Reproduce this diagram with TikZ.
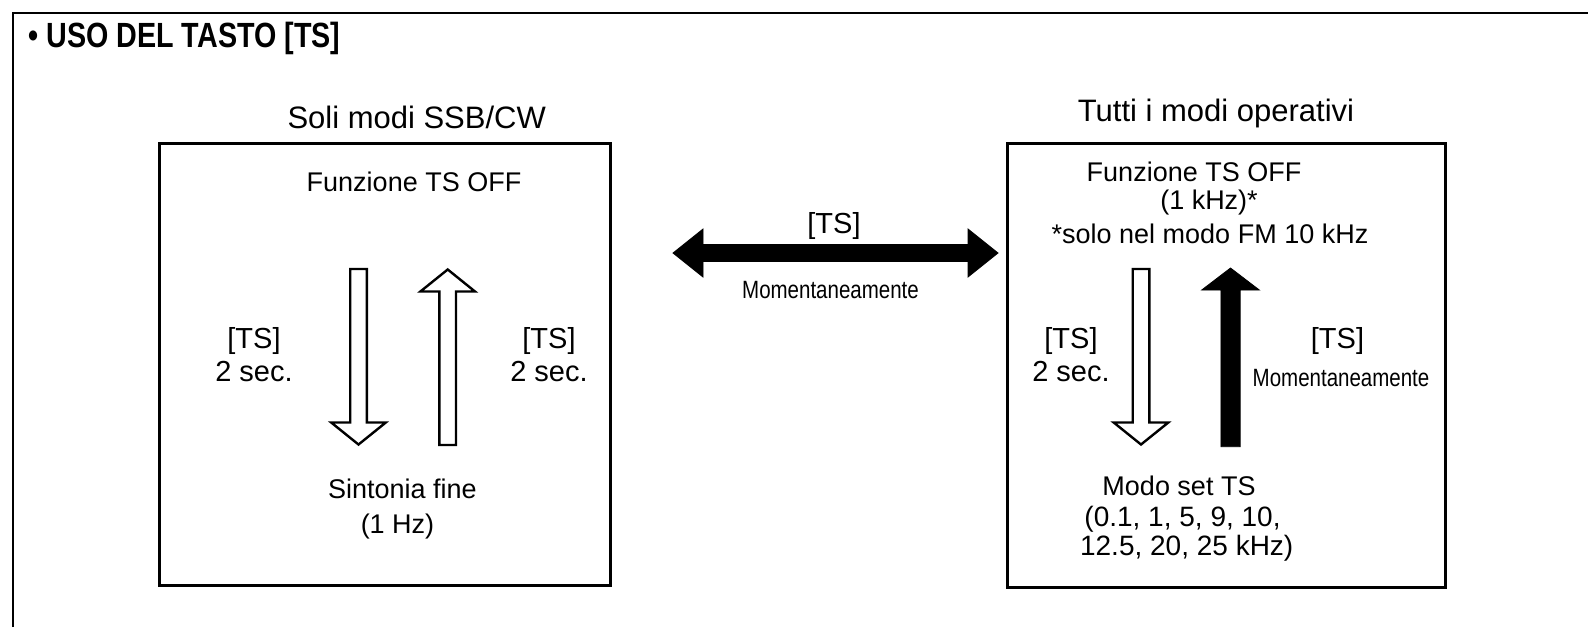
\documentclass[tikz,border=0pt]{standalone}
\usepackage{fontspec}
\setmainfont{Liberation Sans}
\newfontfamily\narrowfont{Liberation Sans}[FakeStretch=0.82]
\usetikzlibrary{calc,positioning}

\begin{document}
\begin{tikzpicture}[
  x=0.5pt, y=-0.5pt,
  frame/.style={line width=1.1pt},
  panel/.style={draw, line width=1.5pt, inner sep=0pt},
  heading/.style={anchor=base west, inner sep=0pt, font=\narrowfont\bfseries\fontsize{17.5}{20}\selectfont},
  caption/.style={anchor=base, inner sep=0pt, font=\fontsize{15.5}{18}\selectfont},
  txt/.style={anchor=base, inner sep=0pt, font=\fontsize{13.5}{16}\selectfont},
  keytxt/.style={txt, font=\fontsize{14.5}{17}\selectfont},
  steptxt/.style={txt, font=\fontsize{14}{17}\selectfont},
  narrowtxt/.style={txt, font=\narrowfont\fontsize{12.5}{15}\selectfont},
  blockarrow/.style n args={3}{to path={let \p1=($(\tikztotarget)!#3!(\tikztostart)$) in
    ($(\tikztostart)!#1!90:(\tikztotarget)$) -- ($(\p1)!#1!90:(\tikztotarget)$) -- ($(\p1)!#2!90:(\tikztotarget)$)
    -- (\tikztotarget) -- ($(\p1)!#2!-90:(\tikztotarget)$) -- ($(\p1)!#1!-90:(\tikztotarget)$)
    -- ($(\tikztostart)!#1!-90:(\tikztotarget)$) -- cycle}},
  dblockarrow/.style n args={3}{to path={let \p1=($(\tikztotarget)!#3!(\tikztostart)$), \p2=($(\tikztostart)!#3!(\tikztotarget)$) in
    ($(\p2)!#1!90:(\tikztotarget)$) -- ($(\p1)!#1!90:(\tikztotarget)$) -- ($(\p1)!#2!90:(\tikztotarget)$) -- (\tikztotarget)
    -- ($(\p1)!#2!-90:(\tikztotarget)$) -- ($(\p1)!#1!-90:(\tikztotarget)$) -- ($(\p2)!#1!-90:(\tikztotarget)$)
    -- ($(\p2)!#2!-90:(\tikztotarget)$) -- (\tikztostart) -- ($(\p2)!#2!90:(\tikztotarget)$) -- cycle}},
  hollowarrow/.style={draw, line width=1.2pt, fill=white, blockarrow={4.15pt}{13.65pt}{11pt}},
  solidarrow/.style={fill=black, blockarrow={4.8pt}{14.4pt}{11pt}},
  twowayarrow/.style={fill=black, dblockarrow={4.25pt}{12pt}{15pt}}
]
\useasboundingbox (0,0) rectangle (1588,627);
\draw[frame] (13,627) -- (13,13) -- (1588,13);
\node[heading] (title) at (28,47) {\textbullet\ USO DEL TASTO [TS]};

% SSB/CW panel
\node[panel, minimum width=225.5pt, minimum height=221pt] (ssb) at (384.5,364) {};
\node[caption] (ssbcap) at (416.7,128) {Soli modi SSB/CW};
\node[txt] (ssboff) at (414,191.7) {Funzione TS OFF};
\node[keytxt] (ssbk1) at (254,348) {[TS]};
\node[keytxt] (ssbt1) at ([yshift=-16.85pt]ssbk1.base) {2 sec.};
\node[keytxt] (ssbk2) at (549,348) {[TS]};
\node[keytxt] (ssbt2) at ([yshift=-16.85pt]ssbk2.base) {2 sec.};
\node[txt] (fine) at (402.5,498.3) {Sintonia fine};
\node[txt] (finehz) at (397.5,533.3) {(1 Hz)};
\coordinate (ssbdnA) at (358.5,269);
\coordinate (ssbdnB) at (358.5,444.5);
\coordinate (ssbupA) at (447.7,445);
\coordinate (ssbupB) at (447.7,269.5);
\draw[hollowarrow] (ssbdnA) to (ssbdnB);
\draw[hollowarrow] (ssbupA) to (ssbupB);

% toggle between panels
\node[keytxt] (midkey) at (834,233) {[TS]};
\node[narrowtxt] (midmom) at (830.5,298.3) {Momentaneamente};
\coordinate (midL) at (673,253);
\coordinate (midR) at (998,253);
\draw[twowayarrow] (midL) to (midR);

% all modes panel
\node[panel, minimum width=219pt, minimum height=222pt] (all) at (1226,365) {};
\node[caption] (allcap) at (1216,121.7) {Tutti i modi operativi};
\node[txt] (alloff) at (1194,181.7) {Funzione TS OFF};
\node[txt] (allkhz) at (1209,209) {(1 kHz)*};
\node[txt] (allfm) at (1210,243.3) {*solo nel modo FM 10 kHz};
\node[keytxt] (allk1) at (1071,348) {[TS]};
\node[keytxt] (allt1) at ([yshift=-16.85pt]allk1.base) {2 sec.};
\node[keytxt] (allk2) at (1337.5,348) {[TS]};
\node[narrowtxt] (allmom) at (1341,386) {Momentaneamente};
\node[txt] (setts) at (1179,495) {Modo set TS};
\node[steptxt] (setl1) at (1182.5,526.7) {(0.1, 1, 5, 9, 10,};
\node[steptxt] (setl2) at (1186.7,555) {12.5, 20, 25 kHz)};
\coordinate (alldnA) at (1141,269);
\coordinate (alldnB) at (1141,444.5);
\coordinate (allupA) at (1230.5,446.7);
\coordinate (allupB) at (1230.5,268);
\draw[hollowarrow] (alldnA) to (alldnB);
\draw[solidarrow] (allupA) to (allupB);
\end{tikzpicture}
\end{document}
